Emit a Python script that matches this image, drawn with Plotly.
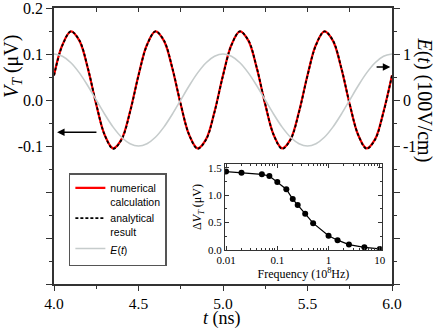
import plotly.graph_objects as go

# main panel: time axis (ns)
t_ns = [4.00, 4.05, 4.10, 4.15, 4.20, 4.25, 4.30, 4.35, 4.40, 4.45,
        4.50, 4.55, 4.60, 4.65, 4.70, 4.75, 4.80, 4.85, 4.90, 4.95,
        5.00, 5.05, 5.10, 5.15, 5.20, 5.25, 5.30, 5.35, 5.40, 5.45,
        5.50, 5.55, 5.60, 5.65, 5.70, 5.75, 5.80, 5.85, 5.90, 5.95, 6.00]

# V_T (uV), numerical and analytical (they sit on top of each other)
v_numerical = [0.054, 0.120, 0.149, 0.129, 0.069, -0.010, -0.076, -0.105, -0.085, -0.025,
               0.054, 0.120, 0.149, 0.129, 0.069, -0.010, -0.076, -0.105, -0.085, -0.025,
               0.054, 0.120, 0.149, 0.129, 0.069, -0.010, -0.076, -0.105, -0.085, -0.025,
               0.054, 0.120, 0.149, 0.129, 0.069, -0.010, -0.076, -0.105, -0.085, -0.025,
               0.054]
v_analytical = [0.053, 0.119, 0.149, 0.130, 0.070, -0.009, -0.076, -0.106, -0.086, -0.026,
                0.053, 0.119, 0.149, 0.130, 0.070, -0.009, -0.076, -0.106, -0.086, -0.026,
                0.053, 0.119, 0.149, 0.130, 0.070, -0.009, -0.076, -0.106, -0.086, -0.026,
                0.053, 0.119, 0.149, 0.130, 0.070, -0.009, -0.076, -0.106, -0.086, -0.026,
                0.053]
# E(t) in 100 V/cm
e_field = [1.00, 0.95, 0.81, 0.59, 0.31, 0.00, -0.31, -0.59, -0.81, -0.95,
           -1.00, -0.95, -0.81, -0.59, -0.31, 0.00, 0.31, 0.59, 0.81, 0.95,
           1.00, 0.95, 0.81, 0.59, 0.31, 0.00, -0.31, -0.59, -0.81, -0.95,
           -1.00, -0.95, -0.81, -0.59, -0.31, 0.00, 0.31, 0.59, 0.81, 0.95,
           1.00]

# inset: amplitude vs frequency (1e8 Hz)
freq = [0.01, 0.02, 0.05, 0.07, 0.1, 0.15, 0.2, 0.25, 0.35, 0.5, 1.0, 1.5, 2.5, 5.0, 10.0]
delta_v = [1.43, 1.41, 1.38, 1.35, 1.24, 1.11, 0.93, 0.82, 0.66, 0.49, 0.26, 0.18, 0.10, 0.05, 0.02]

left_ticks = [-0.4, -0.3, -0.2, -0.1, 0.0, 0.1, 0.2]
left_text = ["", "", "", "-0.1", "0.0", "0.1", "0.2"]
right_ticks = [-4, -3, -2, -1, 0, 1, 2]
right_text = ["", "", "", "-1", "0", "1", ""]
x_ticks = [4.0, 4.5, 5.0, 5.5, 6.0]
x_text = ["4.0", "4.5", "5.0", "5.5", "6.0"]
inset_xticks = [0.01, 0.1, 1, 10]
inset_xtext = ["0.01", "0.1", "1", "10"]
inset_minor = [0.02, 0.03, 0.04, 0.05, 0.06, 0.07, 0.08, 0.09,
               0.2, 0.3, 0.4, 0.5, 0.6, 0.7, 0.8, 0.9,
               2, 3, 4, 5, 6, 7, 8, 9]

SERIF = "Liberation Serif"
SANS = "Liberation Sans"
AX = "#333333"

fig = go.Figure()

fig.add_trace(go.Scatter(x=t_ns, y=e_field, yaxis="y2", mode="lines", line_shape="spline",
                         line=dict(color="#c6cccc", width=1.6), name="<i>E</i>(<i>t</i>)"))
fig.add_trace(go.Scatter(x=t_ns, y=v_numerical, mode="lines", line_shape="spline",
                         line=dict(color="#ff0000", width=2.2), name="numerical<br>calculation"))
fig.add_trace(go.Scatter(x=t_ns, y=v_analytical, mode="lines", line_shape="spline",
                         line=dict(color="#000000", width=1.8, dash="3px,2px"),
                         name="analytical<br>result"))
# dummy trace so the top tick axis is drawn
fig.add_trace(go.Scatter(x=[4, 6], y=[0, 0], xaxis="x2", mode="lines",
                         line=dict(width=0), showlegend=False, hoverinfo="skip"))

fig.add_trace(go.Scatter(x=freq, y=delta_v, xaxis="x3", yaxis="y3", mode="lines+markers",
                         line=dict(color="#000000", width=1.2),
                         marker=dict(color="#000000", size=6), showlegend=False))

# reorder legend: numerical, analytical, E(t)
fig.data[0].legendrank = 3
fig.data[1].legendrank = 1
fig.data[2].legendrank = 2

fig.update_layout(
    width=436, height=331,
    margin=dict(l=54, r=44, t=8, b=47, autoexpand=False),
    paper_bgcolor="white", plot_bgcolor="white",
    font=dict(family=SERIF, size=16, color="#000000"),
    xaxis=dict(domain=[0, 1], range=[4, 6], tickvals=x_ticks, ticktext=x_text,
               ticks="outside", ticklen=5, tickwidth=1.3, tickcolor=AX,
               minor=dict(dtick=0.25, ticks="outside", ticklen=3, tickcolor=AX),
               showline=True, linecolor=AX, linewidth=1.5, showgrid=False,
               zeroline=False, automargin=False, ticklabeloverflow="allow",
               tickfont=dict(family=SERIF, size=15.5)),
    xaxis2=dict(overlaying="x", side="top", range=[4, 6], dtick=0.25, tick0=4,
                ticks="inside", ticklen=4, tickcolor=AX, showticklabels=False,
                showline=True, linecolor=AX, linewidth=1.5, showgrid=False,
                zeroline=False, automargin=False),
    yaxis=dict(range=[-0.4, 0.2], tickvals=left_ticks, ticktext=left_text,
               ticks="outside", ticklen=6, tickwidth=1.3, tickcolor=AX,
               minor=dict(dtick=0.05, tick0=0, ticks="outside", ticklen=3, tickcolor=AX),
               showline=True, linecolor=AX, linewidth=1.5, showgrid=False,
               zeroline=False, automargin=False, ticklabeloverflow="allow",
               tickfont=dict(family=SERIF, size=16)),
    yaxis2=dict(overlaying="y", side="right", range=[-4, 2], tickvals=right_ticks,
                ticktext=right_text, ticks="outside", ticklen=6, tickwidth=1.3,
                tickcolor=AX,
                minor=dict(dtick=0.5, tick0=0, ticks="outside", ticklen=3, tickcolor=AX),
                showline=True, linecolor=AX, linewidth=1.5, showgrid=False,
                zeroline=False, automargin=False, ticklabeloverflow="allow",
                tickfont=dict(family=SERIF, size=16)),
    xaxis3=dict(domain=[0.506, 0.970], anchor="y3", type="log", range=[-2.02, 1.04],
                tickvals=inset_xticks, ticktext=inset_xtext, ticks="inside", ticklen=4,
                tickcolor=AX, minor=dict(tickvals=inset_minor, ticks="inside", ticklen=2,
                                         tickcolor=AX),
                showline=True, mirror="allticks", linecolor=AX, linewidth=1.3,
                showgrid=False, zeroline=False, automargin=False,
                tickfont=dict(family=SERIF, size=11),
                title=dict(text="Frequency (10<sup>8</sup>Hz)", standoff=2,
                           font=dict(family=SERIF, size=12))),
    yaxis3=dict(domain=[0.123, 0.435], anchor="x3", range=[0, 1.57],
                tickvals=[0, 0.5, 1.0, 1.5], ticktext=["0.0", "0.5", "1.0", "1.5"],
                ticks="inside", ticklen=4, tickcolor=AX,
                minor=dict(dtick=0.25, tick0=0, ticks="inside", ticklen=2, tickcolor=AX),
                showline=True, mirror="allticks", linecolor=AX, linewidth=1.3,
                showgrid=False, zeroline=False, automargin=False,
                tickfont=dict(family=SERIF, size=11),
                title=dict(text="Δ<i>V</i><sub><i>T</i></sub> (μV)", standoff=3,
                           font=dict(family=SERIF, size=12))),
    legend=dict(x=0.044, y=0.402, xanchor="left", yanchor="top",
                bgcolor="white", bordercolor="#555555", borderwidth=1.5,
                font=dict(family=SANS, size=10.5), valign="top",
                tracegroupgap=0, itemwidth=30),
    showlegend=True,
)

fig.add_annotation(text="<i>V</i><sub><i>T</i></sub> (μV)", xref="paper", yref="paper",
                   x=-0.121, y=0.79, xanchor="center", yanchor="middle",
                   textangle=-90, showarrow=False, font=dict(family=SERIF, size=20))
fig.add_annotation(text="<i>E</i>(<i>t</i>) (100V/cm)", xref="paper", yref="paper",
                   x=1.096, y=0.667, xanchor="center", yanchor="middle",
                   textangle=90, showarrow=False, font=dict(family=SERIF, size=20))
fig.add_annotation(text="<i>t</i> (ns)", xref="paper", yref="paper",
                   x=0.497, y=-0.1667, xanchor="center", yanchor="bottom", borderpad=0,
                   showarrow=False, font=dict(family=SERIF, size=18))

# arrows pointing at the axis each curve belongs to
fig.add_annotation(x=4.018, y=-0.07, ax=4.26, ay=-0.07, xref="x", yref="y",
                   axref="x", ayref="y", showarrow=True, arrowhead=2, arrowsize=1,
                   arrowwidth=1.5, arrowcolor="#000000", text="")
fig.add_annotation(x=5.99, y=0.072, ax=5.90, ay=0.072, xref="x", yref="y",
                   axref="x", ayref="y", showarrow=True, arrowhead=2, arrowsize=1,
                   arrowwidth=1.5, arrowcolor="#000000", text="")

fig.write_html("out.html", config={"displayModeBar": False},
               post_script="document.body.style.margin='0';")
